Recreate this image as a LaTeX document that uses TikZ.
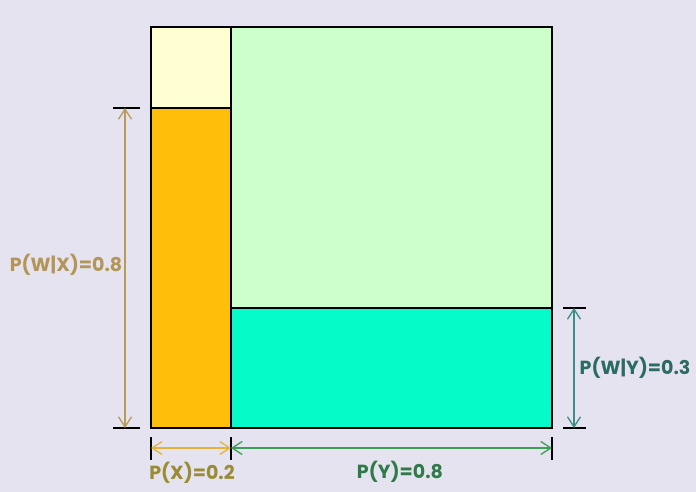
\documentclass[tikz,border=0pt]{standalone}
\usepackage{fontspec}
\setmainfont{Poppins}[BoldFont={Poppins Bold}]
\usetikzlibrary{arrows.meta}
\definecolor{fond}{HTML}{E5E3EF}
\definecolor{jaunepale}{HTML}{FFFFD2}
\definecolor{orange}{HTML}{FFBE0A}
\definecolor{vertpale}{HTML}{CCFFCC}
\definecolor{turquoise}{HTML}{05FBC8}
\definecolor{brun}{HTML}{B89A5C}
\definecolor{brunfonce}{HTML}{B39557}
\definecolor{or}{HTML}{E2B33A}
\definecolor{olive}{HTML}{9A8C34}
\definecolor{vert}{HTML}{3E9E55}
\definecolor{vertfonce}{HTML}{2F7A48}
\definecolor{sarcelle}{HTML}{3C8E88}
\definecolor{sarcellefonce}{HTML}{2C6A66}
\begin{document}
\begin{tikzpicture}[x=1pt,y=-1pt]
			% Styles
			\tikzstyle{bloc}=[draw=black,line width=2.6pt]
			\tikzstyle{fleche}=[<->,>={Straight Barb[length=10pt,width=13pt]},line width=1.3pt]
			\tikzstyle{trait}=[black,line width=1.4pt]
			\tikzstyle{etiquette}=[font=\bfseries\fontsize{19}{22}\selectfont]
			% Dimensions
			\def\Gauche{151}
			\def\Droite{552}
			\def\Haut{27}
			\def\Bas{428}
			\def\Coupe{231}
			\def\NiveauX{108}
			\def\NiveauY{308}
			% Fond
			\fill[fond] (0,0) rectangle (696,492);
			\useasboundingbox (0,0) rectangle (696,492);
			% Blocs
			\fill[jaunepale] (\Gauche,\Haut) rectangle (\Coupe,\NiveauX);
			\fill[orange] (\Gauche,\NiveauX) rectangle (\Coupe,\Bas);
			\fill[vertpale] (\Coupe,\Haut) rectangle (\Droite,\NiveauY);
			\fill[turquoise] (\Coupe,\NiveauY) rectangle (\Droite,\Bas);
			\draw[bloc] (\Gauche,\Haut) rectangle (\Droite,\Bas);
			\draw[bloc] (\Coupe,\Haut) -- (\Coupe,\Bas);
			\draw[bloc] (\Gauche,\NiveauX) -- (\Coupe,\NiveauX);
			\draw[bloc] (\Coupe,\NiveauY) -- (\Droite,\NiveauY);
			% Points
			\coordinate (XH) at (125,\NiveauX);
			\coordinate (XB) at (125,\Bas);
			\coordinate (YH) at (574,\NiveauY);
			\coordinate (YB) at (574,\Bas);
			\coordinate (BG) at (\Gauche,448);
			\coordinate (BC) at (\Coupe,448);
			\coordinate (BD) at (\Droite,448);
			% Traits
			\draw[trait] (113,\NiveauX) -- (140,\NiveauX);
			\draw[trait] (113,\Bas) -- (140,\Bas);
			\draw[trait] (563,\NiveauY) -- (586,\NiveauY);
			\draw[trait] (563,\Bas) -- (586,\Bas);
			\draw[trait] (\Gauche,437) -- (\Gauche,460);
			\draw[trait] (\Coupe,437) -- (\Coupe,460);
			\draw[trait] (\Droite,437) -- (\Droite,460);
			% Fleches
			\draw[fleche,brun] (XH)--(XB);
			\draw[fleche,sarcelle] (YH)--(YB);
			\draw[fleche,or] (BG)--(BC);
			\draw[fleche,vert] (BC)--(BD);
			% Etiquettes
			\node[etiquette,brunfonce] (PWX) at (66,265) {P(W|X)=0.8};
			\node[etiquette,sarcellefonce] (PWY) at (635,368) {P(W|Y)=0.3};
			\node[etiquette,olive] (PX) at (192,473) {P(X)=0.2};
			\node[etiquette,vertfonce] (PY) at (400,472) {P(Y)=0.8};
		\end{tikzpicture}
\end{document}
